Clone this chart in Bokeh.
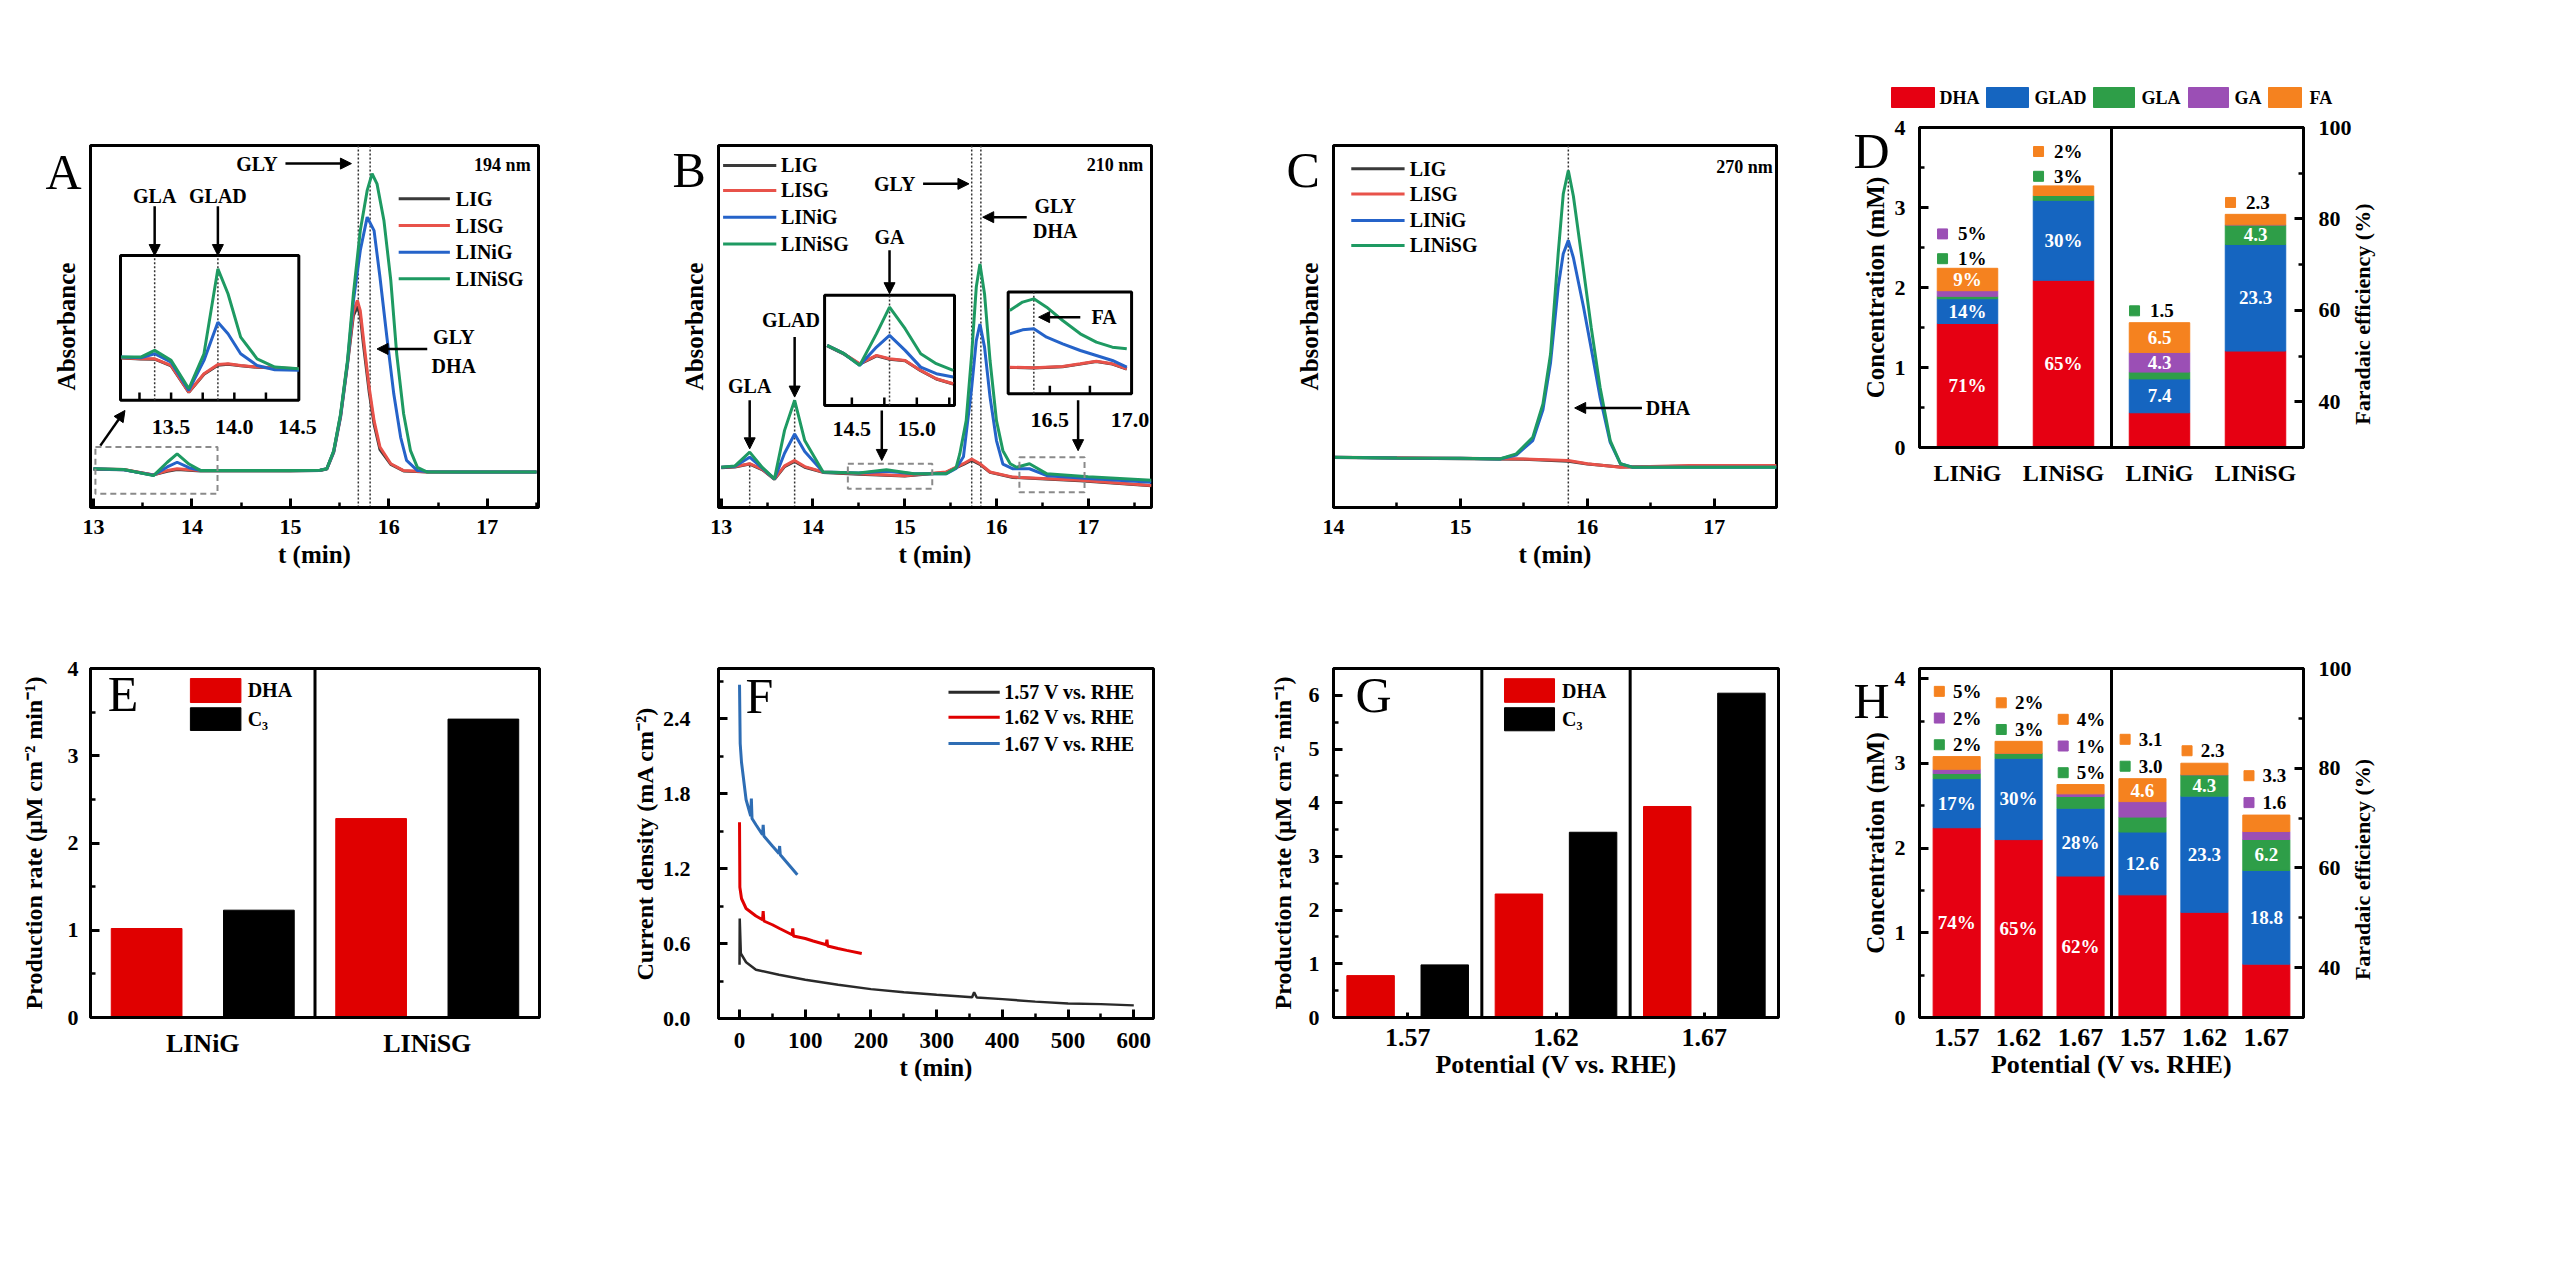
import math
import numpy as np
from bokeh.plotting import figure
from bokeh.models import (Range1d, LinearAxis, FixedTicker, SingleIntervalTicker, Span, Label,
                          Arrow, NormalHead, ColumnDataSource, NumeralTickFormatter)
from bokeh.layouts import row, column
from bokeh.embed import file_html
from bokeh.resources import INLINE
from bokeh.core.properties import value

SERIF = "Liberation Serif"

# ================= DATA =================
# ---- Panel A: HPLC at 194 nm ----
A_LINiSG_t = [13.0, 13.31, 13.61, 13.75, 13.85, 13.97, 14.09, 14.5, 15.0, 15.3, 15.37, 15.44, 15.51, 15.58, 15.64,
              15.71, 15.78, 15.83, 15.88, 15.95, 16.02, 16.08, 16.15, 16.22, 16.29, 16.39, 16.7, 17.0, 17.5]
A_LINiSG_y = [10.7, 10.5, 8.8, 12.5, 14.8, 12.0, 10.2, 10.2, 10.2, 10.3, 10.7, 15.7, 25.9, 40.6, 59.0,
              76.5, 87.6, 92.2, 89.4, 79.3, 62.7, 42.4, 25.9, 15.7, 11.1, 9.8, 9.8, 9.8, 9.8]
A_LINiG_t = [13.0, 13.31, 13.61, 13.75, 13.85, 13.97, 14.09, 14.5, 15.0, 15.3, 15.37, 15.44, 15.51, 15.58, 15.64,
             15.71, 15.78, 15.85, 15.91, 15.98, 16.05, 16.12, 16.18, 16.29, 16.4, 16.7, 17.0, 17.5]
A_LINiG_y = [10.7, 10.4, 8.9, 11.2, 12.5, 11.0, 10.2, 10.2, 10.2, 10.3, 10.7, 15.5, 25.5, 40.0, 57.0,
             71.0, 80.2, 76.5, 63.6, 47.1, 31.4, 19.4, 13.0, 10.2, 9.9, 9.8, 9.8, 9.8]
A_LISG_t = [13.0, 13.31, 13.61, 13.75, 13.85, 13.97, 14.09, 14.5, 15.0, 15.3, 15.37, 15.44, 15.51, 15.58, 15.64,
            15.68, 15.71, 15.74, 15.80, 15.85, 15.91, 16.02, 16.15, 16.4, 17.0, 17.5]
A_LISG_y = [10.7, 10.5, 9.0, 10.2, 10.7, 10.4, 10.2, 10.2, 10.2, 10.3, 10.7, 15.5, 25.5, 40.0, 54.0,
            57.2, 54.4, 47.1, 33.2, 24.0, 16.7, 12.1, 10.2, 9.8, 9.8, 9.8]
A_LIG_t = [13.0, 13.31, 13.61, 13.75, 13.85, 13.97, 14.09, 14.5, 15.0, 15.3, 15.37, 15.44, 15.51, 15.58, 15.64,
           15.68, 15.71, 15.74, 15.80, 15.85, 15.91, 16.02, 16.15, 16.4, 17.0, 17.5]
A_LIG_y = [10.6, 10.4, 9.0, 10.0, 10.5, 10.3, 10.1, 10.1, 10.1, 10.2, 10.6, 15.2, 25.0, 39.5, 53.0,
           55.5, 53.0, 45.5, 32.0, 23.0, 16.0, 11.9, 10.1, 9.8, 9.8, 9.8]
# inset of A (13.1 - 14.5 min)
A_in_t = [13.105, 13.26, 13.37, 13.5, 13.64, 13.76, 13.87, 13.95, 14.05, 14.18, 14.32, 14.51]
A_in_LINiSG = [29.9, 29.9, 34.5, 27.6, 8.0, 32.2, 90.8, 73.6, 43.7, 28.7, 23.0, 21.8]
A_in_LINiG = [29.9, 29.4, 32.2, 26.4, 6.9, 27.6, 54.0, 46.0, 32.2, 24.1, 21.1, 20.7]
A_in_LISG = [29.4, 28.7, 28.7, 24.1, 5.7, 18.4, 24.8, 25.3, 24.1, 23.0, 22.5, 21.8]
A_in_LIG = [29.2, 28.5, 28.4, 23.8, 5.5, 18.0, 24.2, 24.9, 23.9, 22.8, 22.3, 21.6]

# ---- Panel B: HPLC at 210 nm ----
B_LINiSG_t = [13.0, 13.15, 13.31, 13.45, 13.58, 13.69, 13.80, 13.91, 14.11, 14.5, 14.8, 15.1, 15.45, 15.56, 15.60,
              15.67, 15.73, 15.78, 15.82, 15.87, 15.93, 16.0, 16.07, 16.15, 16.22, 16.36, 16.55, 17.0, 17.69]
B_LINiSG_y = [11.1, 11.5, 15.3, 11.0, 7.9, 21.3, 29.6, 18.5, 9.8, 9.5, 10.4, 9.3, 9.3, 11.0, 14.8,
              24.0, 42.4, 60.9, 67.3, 59.0, 40.6, 24.0, 15.7, 12.1, 11.1, 12.1, 9.3, 8.5, 7.5]
B_LINiG_t = [13.0, 13.15, 13.31, 13.45, 13.58, 13.69, 13.80, 13.91, 14.11, 14.5, 14.8, 15.1, 15.45, 15.56, 15.64,
             15.73, 15.78, 15.82, 15.87, 15.93, 16.0, 16.07, 16.18, 16.36, 16.55, 17.0, 17.69]
B_LINiG_y = [11.1, 11.4, 13.9, 10.8, 7.9, 15.0, 20.3, 15.5, 9.8, 9.5, 10.0, 9.3, 9.3, 10.8, 14.0,
             33.2, 46.1, 50.7, 44.3, 30.5, 18.5, 12.0, 10.7, 10.7, 8.8, 8.0, 7.0]
B_LISG_t = [13.0, 13.15, 13.31, 13.45, 13.58, 13.69, 13.80, 13.91, 14.11, 14.5, 15.0, 15.45, 15.64, 15.73,
            15.82, 15.93, 16.18, 16.91, 17.69]
B_LISG_y = [11.1, 11.3, 12.1, 10.5, 7.9, 11.5, 13.0, 11.3, 9.8, 9.3, 8.8, 9.8, 12.1, 13.4,
            12.1, 9.8, 8.4, 7.5, 6.1]
B_LIG_t = [13.0, 13.15, 13.31, 13.45, 13.58, 13.69, 13.80, 13.91, 14.11, 14.5, 15.0, 15.45, 15.64, 15.73,
           15.82, 15.93, 16.18, 16.91, 17.69]
B_LIG_y = [11.0, 11.2, 12.0, 10.4, 7.8, 11.3, 12.7, 11.1, 9.7, 9.2, 8.7, 9.7, 11.9, 13.1,
           11.9, 9.7, 8.3, 7.4, 6.0]
# GA inset of B
B_ga_t = [14.31, 14.44, 14.56, 14.69, 14.79, 14.91, 15.03, 15.15, 15.28]
B_ga_LINiSG = [54.5, 47.0, 36.4, 65.2, 89.4, 69.7, 47.0, 37.9, 31.8]
B_ga_LINiG = [54.5, 47.0, 36.4, 53.0, 63.6, 50.0, 34.8, 28.8, 25.8]
B_ga_LISG = [54.5, 47.0, 37.9, 45.5, 42.4, 40.9, 31.8, 24.2, 19.7]
B_ga_LIG = [54.0, 46.6, 37.5, 45.0, 42.0, 40.5, 31.5, 24.0, 19.5]
# FA inset of B
B_fa_t = [16.25, 16.33, 16.40, 16.48, 16.58, 16.69, 16.79, 16.89, 16.98]
B_fa_LINiSG = [82.0, 90.2, 93.4, 85.2, 72.1, 59.0, 50.8, 45.9, 44.3]
B_fa_LINiG = [59.0, 62.9, 63.9, 55.7, 49.2, 42.6, 37.7, 32.8, 26.2]
B_fa_t2 = [16.25, 16.40, 16.58, 16.69, 16.79, 16.89, 16.98]
B_fa_LISG = [26.2, 25.6, 26.9, 29.5, 32.1, 29.5, 24.6]
B_fa_LIG = [26.0, 25.4, 26.6, 29.2, 31.8, 29.2, 24.4]

# ---- Panel C: HPLC at 270 nm ----
C_LINiSG_t = [14.0, 14.5, 15.0, 15.31, 15.44, 15.57, 15.65, 15.71, 15.77, 15.81, 15.85, 15.89, 15.97, 16.03,
              16.10, 16.18, 16.26, 16.36, 16.8, 17.49]
C_LINiSG_y = [13.9, 13.7, 13.6, 13.4, 14.8, 19.4, 28.6, 42.4, 70.1, 86.6, 93.1, 86.0, 65.5, 49.8,
              33.2, 18.5, 12.1, 11.1, 11.1, 11.1]
C_LINiG_t = [14.0, 14.5, 15.0, 15.31, 15.44, 15.57, 15.65, 15.71, 15.77, 15.81, 15.85, 15.89, 15.97, 16.03,
             16.10, 16.18, 16.26, 16.36, 16.8, 17.49]
C_LINiG_y = [13.9, 13.7, 13.6, 13.4, 14.5, 18.5, 27.0, 40.0, 60.9, 70.1, 73.8, 69.0, 55.3, 44.0,
             30.5, 18.0, 12.1, 11.1, 11.1, 11.1]
C_LISG_t = [14.0, 15.0, 15.5, 15.85, 16.0, 16.26, 16.8, 17.49]
C_LISG_y = [13.9, 13.6, 13.4, 13.0, 12.1, 11.1, 11.6, 11.6]
C_LIG_t = [14.0, 15.0, 15.5, 15.85, 16.0, 16.26, 16.8, 17.49]
C_LIG_y = [13.8, 13.5, 13.3, 12.8, 12.0, 11.2, 11.4, 11.4]

SAMPLES = ["LIG", "LISG", "LINiG", "LINiSG"]

# ---- Panel D ----
PRODUCTS = ["DHA", "GLAD", "GLA", "GA", "FA"]
D_cat = ["LINiG", "LINiSG", "LINiG", "LINiSG"]
D_conc_DHA = [1.55, 2.09]
D_conc_GLAD = [0.31, 1.00]
D_conc_GLA = [0.03, 0.06]
D_conc_GA = [0.07, 0.0]
D_conc_FA = [0.28, 0.12]
D_fe_DHA = [37.6, 51.1]
D_fe_GLAD = [7.4, 23.3]
D_fe_GLA = [1.5, 4.3]
D_fe_GA = [4.3, 0.0]
D_fe_FA = [6.5, 2.3]
D_conc_in = {"DHA": ["71%", "65%"], "GLAD": ["14%", "30%"], "FA": ["9%", ""]}
D_conc_out = [[("1%", "GLA"), ("5%", "GA")], [("3%", "GLA"), ("2%", "FA")]]
D_fe_in = {"DHA": ["37.6", "51.1"], "GLAD": ["7.4", "23.3"], "GLA": ["", "4.3"], "GA": ["4.3", ""], "FA": ["6.5", ""]}
D_fe_out = [[("1.5", "GLA")], [("2.3", "FA")]]

# ---- Panel E ----
E_cat = ["LINiG", "LINiSG"]
E_DHA = [1.02, 2.28]
E_C3 = [1.23, 3.42]

# ---- Panel F: chronoamperometry ----
F157_t = [0, 0.3, 2, 10, 25, 60, 100, 150, 200, 250, 300, 354, 357, 361, 400, 450, 500, 550, 600]
F157_j = [0.43, 0.80, 0.52, 0.45, 0.39, 0.35, 0.31, 0.27, 0.235, 0.21, 0.19, 0.17, 0.21, 0.168, 0.155, 0.135,
          0.12, 0.115, 0.105]
F162_t = [0, 0.5, 3, 10, 25, 35, 36, 37, 50, 61, 80, 81, 82, 100, 112, 132, 133, 134, 150, 163, 186]
F162_j = [1.57, 1.05, 0.96, 0.88, 0.82, 0.79, 0.86, 0.78, 0.75, 0.72, 0.67, 0.72, 0.66, 0.64, 0.62, 0.59,
          0.63, 0.58, 0.56, 0.545, 0.52]
F167_t = [0, 1, 3, 10, 17, 18, 19, 25, 35, 36, 37, 50, 60, 61, 62, 75, 88]
F167_j = [2.67, 2.2, 2.05, 1.75, 1.62, 1.76, 1.60, 1.55, 1.47, 1.55, 1.46, 1.38, 1.32, 1.38, 1.31, 1.23, 1.15]
F_names = ["1.57 V vs. RHE", "1.62 V vs. RHE", "1.67 V vs. RHE"]

# ---- Panel G ----
G_cat = ["1.57", "1.62", "1.67"]
G_DHA = [0.78, 2.30, 3.93]
G_C3 = [0.98, 3.45, 6.04]

# ---- Panel H ----
H_cat = ["1.57", "1.62", "1.67", "1.57", "1.62", "1.67"]
H_conc_DHA = [2.24, 2.10, 1.67]
H_conc_GLAD = [0.58, 0.96, 0.80]
H_conc_GLA = [0.06, 0.06, 0.14]
H_conc_GA = [0.05, 0.0, 0.03]
H_conc_FA = [0.15, 0.14, 0.11]
H_fe_DHA = [54.6, 51.1, 40.7]
H_fe_GLAD = [12.6, 23.3, 18.8]
H_fe_GLA = [3.0, 4.3, 6.2]
H_fe_GA = [3.1, 0.0, 1.6]
H_fe_FA = [4.6, 2.3, 3.3]
H_conc_in = {"DHA": ["74%", "65%", "62%"], "GLAD": ["17%", "30%", "28%"]}
H_conc_out = [[("2%", "GLA"), ("2%", "GA"), ("5%", "FA")], [("3%", "GLA"), ("2%", "FA")],
              [("5%", "GLA"), ("1%", "GA"), ("4%", "FA")]]
H_fe_in = {"DHA": ["54.6", "51.1", "40.7"], "GLAD": ["12.6", "23.3", "18.8"], "GLA": ["", "4.3", "6.2"],
           "FA": ["4.6", "", ""]}
H_fe_out = [[("3.0", "GLA"), ("3.1", "FA")], [("2.3", "FA")], [("1.6", "GA"), ("3.3", "FA")]]

FE_TITLE = "Faradaic efficiency (%)"

# ================= STYLE =================
SCOL = {"LIG": "#3a3a3a", "LISG": "#e8524a", "LINiG": "#2563c9", "LINiSG": "#1e9a62"}
PCOL = {"DHA": "#e60012", "GLAD": "#1565c0", "GLA": "#2e9e48", "GA": "#9b4fb5", "FA": "#f5821f"}
RED = "#e00000"
FCOL = ["#2a2a2a", "#e00000", "#2e6db4"]


def style_axis(ax, label_size="25px", tick_size="22px"):
    ax.axis_line_width = 3
    ax.axis_line_color = "black"
    ax.major_tick_in = 9
    ax.major_tick_out = 0
    ax.minor_tick_in = 5
    ax.minor_tick_out = 0
    ax.major_tick_line_width = 3
    ax.minor_tick_line_width = 2.5
    ax.major_label_text_font = SERIF
    ax.major_label_text_font_style = "bold"
    ax.major_label_text_font_size = tick_size
    ax.major_label_text_color = "black"
    ax.axis_label_text_font = SERIF
    ax.axis_label_text_font_style = "bold"
    ax.axis_label_text_font_size = label_size
    ax.axis_label_text_color = "black"


def make_fig(fw, fh, bl, br, bt, bb, xr, yr):
    p = figure(frame_width=fw, frame_height=fh, x_range=Range1d(*xr), y_range=Range1d(*yr),
               min_border_left=bl, min_border_right=br, min_border_top=bt, min_border_bottom=bb,
               output_backend="svg", toolbar_location=None)
    p.xgrid.visible = False
    p.ygrid.visible = False
    p.outline_line_color = "black"
    p.outline_line_width = 3
    p.outline_line_alpha = 1
    p.background_fill_color = "white"
    p.border_fill_color = "white"
    for ax in p.axis:
        style_axis(ax)
    return p


def txt(p, x, y, s, size="20px", align="center", color="black", style="bold", xname=None, yname=None):
    kw = {}
    if xname:
        kw["x_range_name"] = xname
    if yname:
        kw["y_range_name"] = yname
    p.text(x=list(x), y=list(y), text=list(s), text_font=value(SERIF), text_font_style=style,
           text_font_size=size, text_align=align, text_baseline="middle", text_color=color, **kw)


def letter_in(p, x, y, s):
    p.add_layout(Label(x=x, y=y, text=s, text_font=SERIF, text_font_size="50px", text_font_style="normal",
                       text_align="center", text_baseline="middle", text_color="black"))


def letter_out(p, s, offset, standoff):
    # panel letter placed beside the frame through the figure title
    p.title.text = s
    p.title.align = "left"
    p.title.offset = offset
    p.title.standoff = standoff
    p.title.text_font = SERIF
    p.title.text_font_size = "50px"
    p.title.text_font_style = "normal"
    p.title.text_color = "black"


def arrow(p, x0, y0, x1, y1, rng=None, size=11):
    kw = dict(x_range_name=rng, y_range_name=rng) if rng else {}
    p.add_layout(Arrow(end=NormalHead(size=size, fill_color="black", line_color="black", line_width=1),
                       x_start=x0, y_start=y0, x_end=x1, y_end=y1, line_color="black",
                       line_width=2.5, **kw))


def vdot(p, x, y0, y1, rng=None):
    kw = dict(x_range_name=rng, y_range_name=rng) if rng else {}
    p.segment(x0=[x], y0=[y0], x1=[x], y1=[y1], line_color="#333333", line_width=1.5,
              line_dash="2 2", **kw)


def dash_box(p, l, r, b, t):
    p.quad(left=[l], right=[r], bottom=[b], top=[t], fill_alpha=0, line_color="#8a8a8a",
           line_width=2, line_dash="6 4")


def add_inset(p, name, xlim, fx, fy, ticks, tick_len, labels, label_y):
    sx = (xlim[1] - xlim[0]) / (fx[1] - fx[0])
    x0 = xlim[0] - fx[0] * sx
    sy = 100.0 / (fy[1] - fy[0])
    y0 = -fy[0] * sy
    p.extra_x_ranges[name] = Range1d(x0, x0 + sx)
    p.extra_y_ranges[name] = Range1d(y0, y0 + sy)
    p.quad(left=[xlim[0]], right=[xlim[1]], bottom=[0], top=[100], fill_color="white",
           line_color="black", line_width=3, x_range_name=name, y_range_name=name)
    p.segment(x0=ticks, y0=[0] * len(ticks), x1=ticks, y1=[tick_len] * len(ticks), line_color="black",
              line_width=2.5, x_range_name=name, y_range_name=name)
    txt(p, [v for v, _ in labels], [label_y] * len(labels), [s for _, s in labels], size="22px",
        xname=name, yname=name)


def chrom_fig(fw, bl, br, xr):
    p = make_fig(fw, 362, bl, br, 145, 93, xr, (0, 100))
    ya = p.yaxis[0]
    xa = p.xaxis[0]
    ya.ticker = FixedTicker(ticks=[])
    ya.axis_label = "Absorbance"
    ya.major_label_standoff = 0
    ya.axis_label_standoff = 11
    xa.ticker = SingleIntervalTicker(interval=1, num_minor_ticks=2)
    xa.axis_label = "t (min)"
    xa.major_label_standoff = 12
    xa.axis_label_standoff = 4
    return p


def chrom_legend(p, x0, x1, xt, ys):
    for y, s in zip(ys, SAMPLES):
        p.line([x0, x1], [y, y], line_color=SCOL[s], line_width=3)
    txt(p, [xt] * 4, ys, SAMPLES, size="20px", align="left")


def curves(p, series, rng=None):
    kw = dict(x_range_name=rng, y_range_name=rng) if rng else {}
    for t, y, s in series:
        p.line(t, y, line_color=SCOL[s], line_width=3, **kw)


# ================= PANEL A =================
pA = chrom_fig(448, 90, 90, (12.97, 17.52))
vdot(pA, 15.69, 0, 100)
vdot(pA, 15.81, 0, 100)
curves(pA, [(A_LIG_t, A_LIG_y, "LIG"), (A_LISG_t, A_LISG_y, "LISG"),
            (A_LINiG_t, A_LINiG_y, "LINiG"), (A_LINiSG_t, A_LINiSG_y, "LINiSG")])
dash_box(pA, 13.02, 14.26, 3.8, 16.7)
arrow(pA, 13.07, 17.1, 13.32, 26.8)
add_inset(pA, "ia", (13.1, 14.51), (0.067, 0.465), (0.296, 0.696),
          [13.25, 13.5, 13.75, 14.0, 14.25], 5.5, [(13.5, "13.5"), (14.0, "14.0"), (14.5, "14.5")], -18.4)
vdot(pA, 13.37, 0, 100, "ia")
vdot(pA, 13.87, 0, 100, "ia")
curves(pA, [(A_in_t, A_in_LIG, "LIG"), (A_in_t, A_in_LISG, "LISG"),
            (A_in_t, A_in_LINiG, "LINiG"), (A_in_t, A_in_LINiSG, "LINiSG")], "ia")
txt(pA, [13.37, 13.87], [141, 141], ["GLA", "GLAD"], xname="ia", yname="ia")
arrow(pA, 13.37, 134, 13.37, 100, "ia")
arrow(pA, 13.87, 134, 13.87, 100, "ia")
txt(pA, [14.66], [95], ["GLY"])
arrow(pA, 14.95, 95, 15.62, 95)
txt(pA, [17.44], [94.5], ["194 nm"], size="18px", align="right")
chrom_legend(pA, 16.10, 16.62, 16.68, [85.3, 77.9, 70.5, 63.2])
txt(pA, [16.66, 16.66], [47.0, 39.2], ["GLY", "DHA"])
arrow(pA, 16.39, 43.8, 15.88, 43.8)
letter_out(pA, "A", -45, -108)

# ================= PANEL B =================
pB = chrom_fig(433, 84, 110, (12.97, 17.69))
vdot(pB, 15.73, 0, 100)
vdot(pB, 15.83, 0, 100)
vdot(pB, 13.31, 0, 12)
vdot(pB, 13.80, 0, 28)
curves(pB, [(B_LIG_t, B_LIG_y, "LIG"), (B_LISG_t, B_LISG_y, "LISG"),
            (B_LINiG_t, B_LINiG_y, "LINiG"), (B_LINiSG_t, B_LINiSG_y, "LINiSG")])
dash_box(pB, 14.38, 15.30, 5.2, 12.1)
dash_box(pB, 16.25, 16.96, 4.2, 13.9)
arrow(pB, 14.75, 26.8, 14.75, 13.0)
arrow(pB, 16.89, 29.6, 16.89, 15.7)
txt(pB, [13.31], [33.7], ["GLA"])
arrow(pB, 13.31, 29.6, 13.31, 16.2)
txt(pB, [13.76], [51.7], ["GLAD"])
arrow(pB, 13.80, 47.1, 13.80, 30.5)
txt(pB, [14.89], [89.4], ["GLY"])
arrow(pB, 15.2, 89.4, 15.70, 89.4)
txt(pB, [16.64, 16.64], [83.4, 76.5], ["GLY", "DHA"])
arrow(pB, 16.33, 80.2, 15.85, 80.2)
txt(pB, [17.6], [94.5], ["210 nm"], size="18px", align="right")
chrom_legend(pB, 13.02, 13.6, 13.65, [94.5, 87.6, 80.2, 72.8])
add_inset(pB, "iga", (14.29, 15.29), (0.245, 0.545), (0.282, 0.586),
          [14.5, 14.75, 15.0, 15.25], 7.3, [(14.5, "14.5"), (15.0, "15.0")], -21)
vdot(pB, 14.79, 0, 100, "iga")
curves(pB, [(B_ga_t, B_ga_LIG, "LIG"), (B_ga_t, B_ga_LISG, "LISG"),
            (B_ga_t, B_ga_LINiG, "LINiG"), (B_ga_t, B_ga_LINiSG, "LINiSG")], "iga")
txt(pB, [14.79], [153], ["GA"], xname="iga", yname="iga")
arrow(pB, 14.79, 141, 14.79, 101.5, "iga")
add_inset(pB, "ifa", (16.24, 17.01), (0.669, 0.954), (0.314, 0.595),
          [16.5, 16.75], 7.9, [(16.5, "16.5"), (17.0, "17.0")], -26)
vdot(pB, 16.40, 0, 100, "ifa")
curves(pB, [(B_fa_t2, B_fa_LIG, "LIG"), (B_fa_t2, B_fa_LISG, "LISG"),
            (B_fa_t, B_fa_LINiG, "LINiG"), (B_fa_t, B_fa_LINiSG, "LINiSG")], "ifa")
arrow(pB, 16.69, 75.4, 16.43, 75.4, "ifa")
txt(pB, [16.76], [75.4], ["FA"], align="left", xname="ifa", yname="ifa")
letter_out(pB, "B", -46, -104)

# ================= PANEL C =================
pC = chrom_fig(443, 72, 75, (14.0, 17.49))
vdot(pC, 15.85, 0, 100)
curves(pC, [(C_LIG_t, C_LIG_y, "LIG"), (C_LISG_t, C_LISG_y, "LISG"),
            (C_LINiG_t, C_LINiG_y, "LINiG"), (C_LINiSG_t, C_LINiSG_y, "LINiSG")])
arrow(pC, 16.43, 27.5, 15.90, 27.5)
txt(pC, [16.46], [27.5], ["DHA"], align="left")
txt(pC, [17.46], [94.0], ["270 nm"], size="18px", align="right")
chrom_legend(pC, 14.14, 14.56, 14.60, [93.6, 86.6, 79.3, 72.4])
letter_out(pC, "C", -47, -104)


# ================= stacked bar helpers =================
def stacked(p, xs, stacks, width, yname=None):
    data = dict(x=list(xs))
    for k in PRODUCTS:
        data[k] = list(stacks[k])
    src = ColumnDataSource(data)
    kw = dict(y_range_name=yname) if yname else {}
    return p.vbar_stack(PRODUCTS, x="x", width=width, color=[PCOL[k] for k in PRODUCTS], source=src, **kw)


def bar_labels(p, xs, stacks, inner, outer, off0, step, dx_sq, dx_txt, yname=None):
    base = np.zeros(len(xs))
    ix, iy, it = [], [], []
    for k in PRODUCTS:
        vals = np.array(stacks[k], dtype=float)
        mids = base + vals / 2
        for i, s in enumerate(inner.get(k, [""] * len(xs))):
            if s:
                ix.append(xs[i]); iy.append(mids[i]); it.append(s)
        base = base + vals
    txt(p, ix, iy, it, size="19px", color="white", yname=yname)
    sx, sy, sc, ox, oy, ot = [], [], [], [], [], []
    for i, lst in enumerate(outer):
        for j, (s, k) in enumerate(lst):
            y = base[i] + off0 + j * step
            sx.append(xs[i] + dx_sq); sy.append(y); sc.append(PCOL[k])
            ox.append(xs[i] + dx_txt); oy.append(y); ot.append(s)
    kw = dict(y_range_name=yname) if yname else {}
    p.scatter(sx, sy, marker="square", size=10, color=sc, **kw)
    txt(p, ox, oy, ot, size="19px", align="left", yname=yname)


def add_fe_axis(p, frame_h):
    p.extra_y_ranges = {"fe": Range1d(30, 100)}
    ax = LinearAxis(y_range_name="fe")
    style_axis(ax)
    ax.ticker = SingleIntervalTicker(interval=20, num_minor_ticks=2)
    ax.major_label_standoff = 15
    p.add_layout(ax, "right")
    # title of the FE axis, reading bottom-to-top: one rotated label starting at its lower end,
    # placed so that the (about 275 px long) text is centred on the frame
    half = 137.0 * 70.0 / frame_h
    start = round(65.0 - half, 1)
    lab = LinearAxis(y_range_name="fe", ticker=FixedTicker(ticks=[start]),
                     major_label_overrides={start: FE_TITLE})
    style_axis(lab, tick_size="22px")
    lab.axis_line_color = None
    lab.major_tick_line_color = None
    lab.minor_tick_line_color = None
    lab.major_label_orientation = math.pi / 2
    lab.major_label_standoff = 8
    p.add_layout(lab, "right")


def cat_xaxis(p, ticks, labels, size="23px", standoff=12, tick_in=0):
    xa = p.xaxis[0]
    xa.ticker = FixedTicker(ticks=list(ticks))
    xa.major_label_overrides = {t: s for t, s in zip(ticks, labels)}
    xa.major_tick_in = tick_in
    xa.minor_tick_in = 0
    xa.major_label_text_font_size = size
    xa.major_label_standoff = standoff


# ================= PANEL D (with its legend strip) =================
pL = figure(frame_width=455, frame_height=30, x_range=Range1d(0, 455), y_range=Range1d(0, 30),
            min_border_left=35, min_border_right=217, min_border_top=82, min_border_bottom=0,
            output_backend="svg", toolbar_location=None)
pL.axis.visible = False
pL.xgrid.visible = False
pL.ygrid.visible = False
pL.outline_line_color = None
leg_left = [5, 100, 207, 302, 382]
leg_right = [48, 142, 248, 342, 415]
leg_text_x = [53, 148, 255, 348, 423]
pL.quad(left=leg_left, right=leg_right, bottom=[5] * 5, top=[25] * 5, color=[PCOL[k] for k in PRODUCTS])
txt(pL, leg_text_x, [15] * 5, PRODUCTS, size="18px", align="left")

pD = make_fig(384, 320, 68, 255, 15, 153, (-0.5, 3.5), (0, 4))
add_fe_axis(pD, 320)
cat_xaxis(pD, [0, 1, 2, 3], D_cat, size="24px", standoff=12)
yl = pD.yaxis[0]
yl.ticker = SingleIntervalTicker(interval=1, num_minor_ticks=2)
yl.axis_label = "Concentration (mM)"
yl.major_label_standoff = 14
yl.axis_label_standoff = 3
D_conc = {"DHA": D_conc_DHA, "GLAD": D_conc_GLAD, "GLA": D_conc_GLA, "GA": D_conc_GA, "FA": D_conc_FA}
D_fe = {"DHA": D_fe_DHA, "GLAD": D_fe_GLAD, "GLA": D_fe_GLA, "GA": D_fe_GA, "FA": D_fe_FA}
stacked(pD, [0, 1], D_conc, 0.63)
stacked(pD, [2, 3], D_fe, 0.63, "fe")
pD.add_layout(Span(location=1.5, dimension="height", line_color="black", line_width=3))
bar_labels(pD, [0, 1], D_conc, D_conc_in, D_conc_out, 0.12, 0.31, -0.26, -0.10)
bar_labels(pD, [2, 3], D_fe, D_fe_in, D_fe_out, 2.6, 5.5, -0.26, -0.10, "fe")
letter_out(pD, "D", -66, -102)

# ================= PANEL E =================
pE = make_fig(449, 349, 90, 89, 68, 255, (0, 4), (0, 4))
cat_xaxis(pE, [1, 3], E_cat, size="26px", standoff=11)
ye = pE.yaxis[0]
ye.ticker = SingleIntervalTicker(interval=1, num_minor_ticks=2)
ye.axis_label = "Production rate (\u03bcM cm\u207b\u00b2 min\u207b\u00b9)"
ye.major_label_standoff = 12
ye.axis_label_standoff = 18
ye.axis_label_text_font_size = "24px"
pE.vbar(x=[0.5, 2.5], top=E_DHA, width=0.63, color=RED)
pE.vbar(x=[1.5, 3.5], top=E_C3, width=0.63, color="black")
pE.add_layout(Span(location=2, dimension="height", line_color="black", line_width=3))
pE.quad(left=[0.89, 0.89], right=[1.34, 1.34], bottom=[3.61, 3.29], top=[3.885, 3.55],
        color=[RED, "black"])
txt(pE, [1.40, 1.40], [3.75, 3.42], ["DHA", "C\u2083"], size="20px", align="left")
letter_in(pE, 0.29, 3.71, "E")

# ================= PANEL F =================
pF = make_fig(435, 350, 84, 108, 68, 254, (-32, 630), (0, 2.8))
xf = pF.xaxis[0]
xf.ticker = SingleIntervalTicker(interval=100, num_minor_ticks=2)
xf.axis_label = "t (min)"
xf.major_label_standoff = 14
xf.axis_label_standoff = 3
xf.major_label_text_font_size = "23px"
yf = pF.yaxis[0]
yf.ticker = SingleIntervalTicker(interval=0.6, num_minor_ticks=2)
yf.formatter = NumeralTickFormatter(format="0.0")
yf.axis_label = "Current density (mA cm\u207b\u00b2)"
yf.major_label_standoff = 28
yf.axis_label_standoff = 2
yf.axis_label_text_font_size = "24px"
pF.line(F157_t, F157_j, line_color=FCOL[0], line_width=2.5)
pF.line(F162_t, F162_j, line_color=FCOL[1], line_width=3)
pF.line(F167_t, F167_j, line_color=FCOL[2], line_width=3)
for y, c in zip([2.61, 2.41, 2.20], FCOL):
    pF.line([318, 396], [y, y], line_color=c, line_width=3)
txt(pF, [403] * 3, [2.61, 2.41, 2.20], F_names, size="20px", align="left")
letter_in(pF, 30.4, 2.58, "F")

# ================= PANEL G =================
pG = make_fig(445, 349, 72, 73, 68, 255, (-0.5, 2.5), (0, 6.5))
cat_xaxis(pG, [0, 1, 2], G_cat, size="26px", standoff=11, tick_in=5)
pG.xaxis[0].axis_label = "Potential (V vs. RHE)"
pG.xaxis[0].axis_label_standoff = 1
pG.xaxis[0].axis_label_text_font_size = "26px"
yg = pG.yaxis[0]
yg.ticker = SingleIntervalTicker(interval=1, num_minor_ticks=2)
yg.axis_label = "Production rate (\u03bcM cm\u207b\u00b2 min\u207b\u00b9)"
yg.major_label_standoff = 14
yg.axis_label_standoff = 10
yg.axis_label_text_font_size = "24px"
gx = np.arange(len(G_cat))
pG.vbar(x=gx - 0.25, top=G_DHA, width=0.32, color=RED)
pG.vbar(x=gx + 0.25, top=G_C3, width=0.32, color="black")
for loc in (0.5, 1.5):
    pG.add_layout(Span(location=loc, dimension="height", line_color="black", line_width=3))
pG.quad(left=[0.653, 0.653], right=[0.99, 0.99], bottom=[5.87, 5.34], top=[6.31, 5.77],
        color=[RED, "black"])
txt(pG, [1.04, 1.04], [6.09, 5.56], ["DHA", "C\u2083"], size="20px", align="left")
letter_in(pG, -0.23, 6.0, "G")

# ================= PANEL H =================
pH = make_fig(384, 349, 68, 255, 68, 255, (-0.6, 5.6), (0, 4.12))
add_fe_axis(pH, 349)
cat_xaxis(pH, [0, 1, 2, 3, 4, 5], H_cat, size="26px", standoff=11)
pH.xaxis[0].axis_label = "Potential (V vs. RHE)"
pH.xaxis[0].axis_label_standoff = 1
pH.xaxis[0].axis_label_text_font_size = "26px"
yh = pH.yaxis[0]
yh.ticker = SingleIntervalTicker(interval=1, num_minor_ticks=2)
yh.axis_label = "Concentration (mM)"
yh.major_label_standoff = 14
yh.axis_label_standoff = 3
H_conc = {"DHA": H_conc_DHA, "GLAD": H_conc_GLAD, "GLA": H_conc_GLA, "GA": H_conc_GA, "FA": H_conc_FA}
H_fe = {"DHA": H_fe_DHA, "GLAD": H_fe_GLAD, "GLA": H_fe_GLA, "GA": H_fe_GA, "FA": H_fe_FA}
stacked(pH, [0, 1, 2], H_conc, 0.76)
stacked(pH, [3, 4, 5], H_fe, 0.76, "fe")
pH.add_layout(Span(location=2.5, dimension="height", line_color="black", line_width=3))
bar_labels(pH, [0, 1, 2], H_conc, H_conc_in, H_conc_out, 0.14, 0.315, -0.28, -0.06)
bar_labels(pH, [3, 4, 5], H_fe, H_fe_in, H_fe_out, 2.5, 5.4, -0.28, -0.06, "fe")
letter_out(pH, "H", -66, -120)

# ================= LAYOUT =================
lay = row(column(pA, pE, spacing=0), column(pB, pF, spacing=0), column(pC, pG, spacing=0),
          column(pL, column(pD, pH, spacing=0), spacing=0), spacing=0)
open("out.html", "w").write(file_html(lay, INLINE))
